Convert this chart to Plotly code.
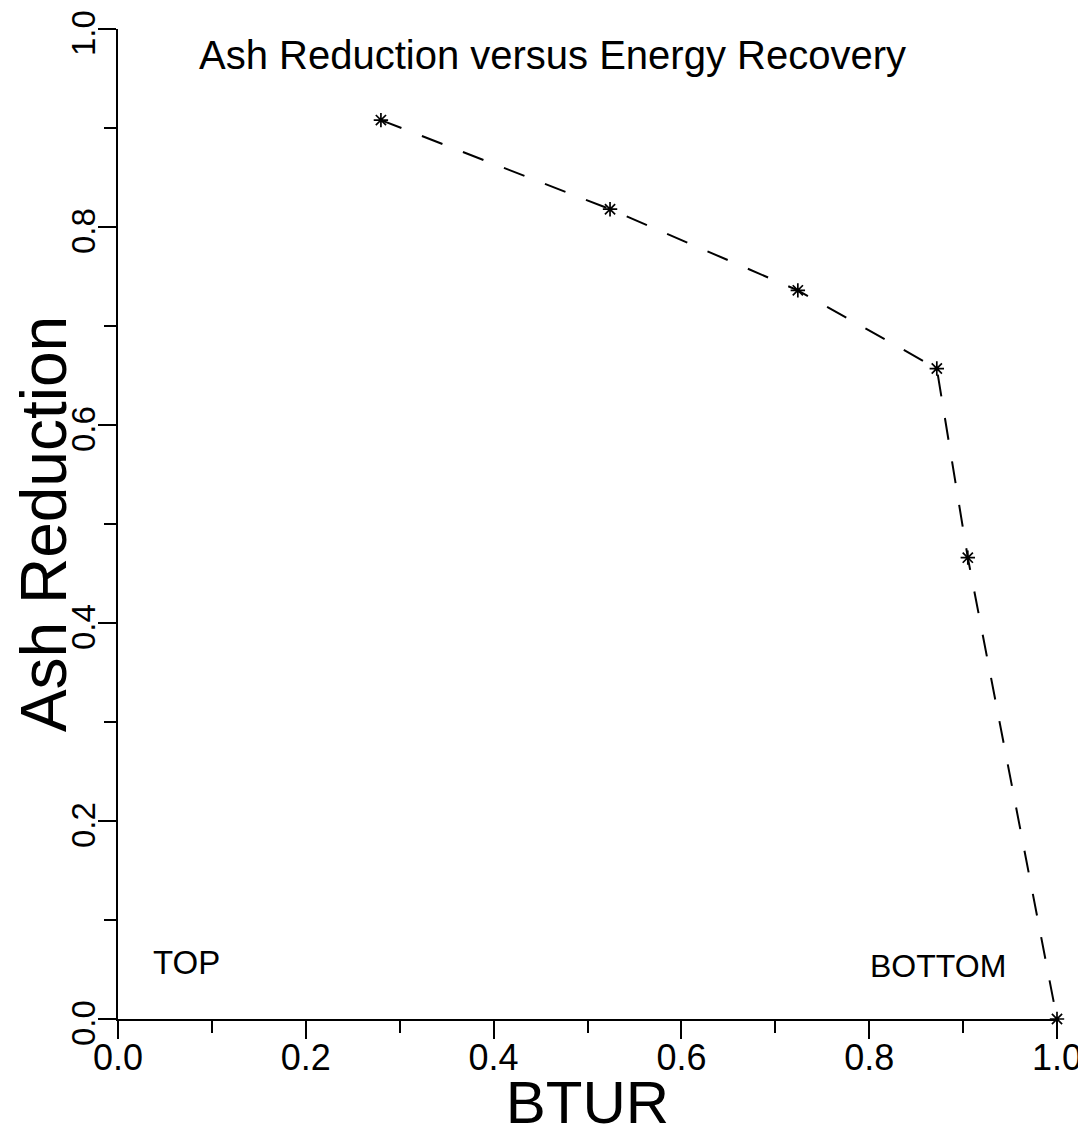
import plotly.graph_objects as go

# Data
btur = [0.280, 0.524, 0.724, 0.872, 0.905, 1.000]
ash_reduction = [0.908, 0.818, 0.736, 0.657, 0.466, 0.000]

x_tick_vals = [0.0, 0.2, 0.4, 0.6, 0.8, 1.0]
y_tick_vals = [0.0, 0.2, 0.4, 0.6, 0.8, 1.0]

title_text = "Ash Reduction versus Energy Recovery"
x_title = "BTUR"
y_title = "Ash Reduction"
label_top = "TOP"
label_bottom = "BOTTOM"

FONT = "Liberation Sans, Arial, sans-serif"

fig = go.Figure()
fig.add_trace(go.Scatter(
    x=btur, y=ash_reduction,
    mode="lines+markers",
    line=dict(color="black", width=2, dash="22px,22px"),
    marker=dict(symbol="asterisk-open", size=12, color="black",
                line=dict(color="black", width=1.7)),
    cliponaxis=False,
    showlegend=False,
))

axis_common = dict(
    range=[0, 1],
    tickformat=".1f",
    ticks="outside",
    ticklen=18,
    tickwidth=1.6,
    tickcolor="black",
    showline=True,
    linewidth=2,
    linecolor="black",
    showgrid=False,
    zeroline=False,
    automargin=False,
    ticklabeloverflow="allow",
    minor=dict(dtick=0.1, ticks="outside", ticklen=12, tickwidth=1.6,
               tickcolor="black", showgrid=False),
)

W, H = 1078, 1128  # page body has an 8px margin

fig.update_layout(
    width=W, height=H,
    margin=dict(l=110, r=29, t=21, b=117, autoexpand=False),
    paper_bgcolor="white", plot_bgcolor="white",
    title=dict(text=title_text, x=0.4627, xanchor="center", xref="paper",
               y=1 - 47 / H, yanchor="middle",
               font=dict(family=FONT, size=40, color="black")),
    xaxis=dict(axis_common, tickvals=x_tick_vals, ticklabelstandoff=-12,
               tickfont=dict(family=FONT, size=36, color="black"),
               title=dict(text=x_title, standoff=15,
                          font=dict(family=FONT, size=60, color="black"))),
    yaxis=dict(axis_common, tickvals=y_tick_vals, tickangle=-90,
               ticklabelstandoff=-10, ticklabelshift=9,
               tickfont=dict(family=FONT, size=33, color="black"),
               title=dict(text=y_title, standoff=14,
                          font=dict(family=FONT, size=64, color="black"))),
)

fig.add_annotation(x=0.073, y=0.057, xref="x", yref="y", text=label_top,
                   showarrow=False, font=dict(family=FONT, size=33, color="black"))
fig.add_annotation(x=0.873, y=0.054, xref="x", yref="y", text=label_bottom,
                   showarrow=False, font=dict(family=FONT, size=32, color="black"))

fig.write_html("out.html")
